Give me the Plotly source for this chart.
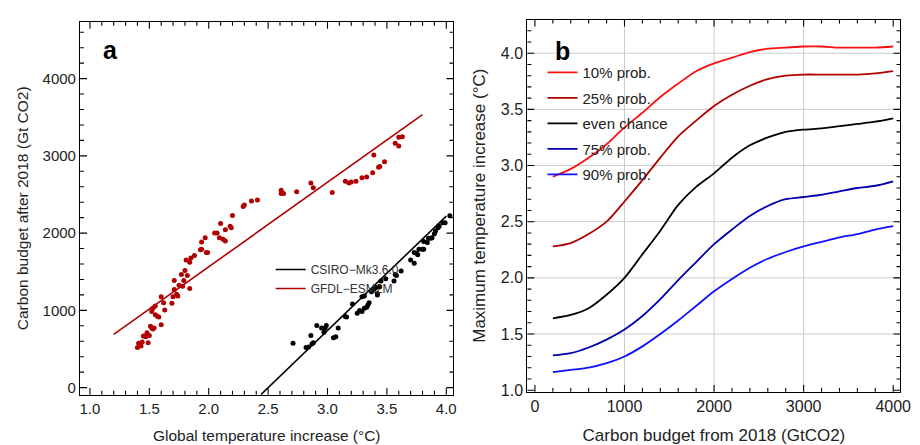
import plotly.graph_objects as go

# ---------------- Panel a data ----------------
gfdl_temp = [1.40, 1.41, 1.43, 1.44, 1.45, 1.47, 1.48, 1.49, 1.50, 1.51, 1.52, 1.53, 1.54,
             1.52, 1.53, 1.55, 1.55, 1.57, 1.58, 1.60, 1.60, 1.62, 1.63, 1.69, 1.70, 1.71,
             1.71, 1.73, 1.74, 1.75, 1.77, 1.78, 1.79, 1.80, 1.81, 1.82, 1.84, 1.84, 1.85,
             1.88, 1.93, 1.94, 1.94, 1.97, 1.98, 1.99, 2.05, 2.07, 2.09, 2.10, 2.12, 2.14,
             2.14, 2.18, 2.19, 2.20, 2.29, 2.30, 2.36, 2.41, 2.61, 2.61, 2.63, 2.74, 2.86,
             2.88, 3.04, 3.15, 3.18, 3.20, 3.24, 3.29, 3.33, 3.38, 3.39, 3.43, 3.44, 3.48,
             3.57, 3.60, 3.60, 3.63]
gfdl_budget = [518, 573, 539, 590, 667, 658, 709, 582, 675, 794, 773, 760, 773,
               985, 1028, 1057, 943, 921, 913, 815, 1176, 1100, 1006, 1091, 1176, 1270,
               1388, 1210, 1185, 1325, 1465, 1312, 1388, 1516, 1652, 1452, 1282, 1622, 1677,
               1711, 1783, 1885, 1792, 1940, 1749, 1749, 2000, 2000, 1940, 2123, 1919, 2042,
               1898, 2089, 2068, 2229, 2344, 2365, 2416, 2429, 2556, 2514, 2514, 2535, 2650,
               2586, 2526, 2671, 2650, 2662, 2671, 2717, 2726, 2781, 3010, 2853, 2862, 2925,
               3163, 3129, 3240, 3248]

csiro_temp = [2.71, 2.82, 2.84, 2.86, 2.87, 2.88, 2.91, 2.95, 2.97, 2.98, 2.99, 3.05, 3.07,
              3.09, 3.15, 3.16, 3.21, 3.25, 3.27, 3.29, 3.29, 3.31, 3.31, 3.33, 3.34, 3.35,
              3.37, 3.39, 3.41, 3.42, 3.42, 3.44, 3.45, 3.49, 3.56, 3.57, 3.58, 3.62, 3.70,
              3.73, 3.73, 3.75, 3.76, 3.77, 3.80, 3.81, 3.81, 3.84, 3.85, 3.87, 3.88, 3.90,
              3.91, 3.93, 3.94, 3.97, 3.99, 4.03]
csiro_budget = [573, 518, 527, 675, 569, 582, 803, 773, 718, 773, 803, 646, 659,
                773, 922, 913, 1083, 964, 998, 986, 1177, 1185, 1028, 1041, 1070, 1100,
                1241, 1270, 1296, 1198, 1219, 1304, 1381, 1410, 1381, 1465, 1452, 1508, 1652,
                1610, 1750, 1738, 1720, 1792, 1792, 1792, 1891, 1878, 1933, 1933, 1941, 1993,
                2026, 2069, 2089, 2133, 2133, 2226]

# fitted regression lines (end points)
gfdl_fit_temp = [1.2, 3.8]
gfdl_fit_budget = [688, 3533]
csiro_fit_temp = [2.44, 4.0]
csiro_fit_budget = [-90, 2220]

# ---------------- Panel b data ----------------
budget_b = [200, 400, 600, 800, 1000, 1200, 1400, 1600, 1800, 2000, 2200, 2400, 2600,
            2800, 3000, 3200, 3400, 3600, 3800, 4000]
p10 = [2.90, 2.97, 3.07, 3.19, 3.34, 3.47, 3.61, 3.73, 3.84, 3.91, 3.96, 4.01, 4.04,
       4.05, 4.06, 4.06, 4.05, 4.05, 4.05, 4.06]
p25 = [2.28, 2.31, 2.39, 2.50, 2.68, 2.87, 3.07, 3.26, 3.40, 3.53, 3.63, 3.71, 3.77,
       3.80, 3.81, 3.81, 3.81, 3.81, 3.82, 3.84]
p50 = [1.64, 1.67, 1.73, 1.85, 2.00, 2.21, 2.42, 2.65, 2.81, 2.93, 3.07, 3.18, 3.25,
       3.30, 3.32, 3.33, 3.35, 3.37, 3.39, 3.42]
p75 = [1.31, 1.33, 1.38, 1.45, 1.54, 1.66, 1.81, 1.98, 2.14, 2.30, 2.43, 2.55, 2.64,
       2.70, 2.72, 2.74, 2.77, 2.80, 2.82, 2.86]
p90 = [1.16, 1.18, 1.20, 1.24, 1.30, 1.39, 1.50, 1.62, 1.75, 1.88, 1.99, 2.09, 2.17,
       2.23, 2.28, 2.32, 2.36, 2.39, 2.43, 2.46]
series_b = [("10% prob.", p10, "#FF1010"), ("25% prob.", p25, "#B00000"),
            ("even chance", p50, "#000000"), ("75% prob.", p75, "#0000B0"),
            ("90% prob.", p90, "#1010FF")]

# ---------------- tick / grid values ----------------
ticks_xa = [1.0, 1.5, 2.0, 2.5, 3.0, 3.5, 4.0]
ticks_ya = [0, 1000, 2000, 3000, 4000]
ticks_xb = [0, 1000, 2000, 3000, 4000]
ticks_yb = [1.0, 1.5, 2.0, 2.5, 3.0, 3.5, 4.0]
grid_x_b = [1000, 2000, 3000]
grid_y_b = [1.5, 2.0, 2.5, 3.0, 3.5, 4.0]

FONT = "Liberation Sans, Arial, sans-serif"
RED_A = "#B00000"
W, H = 920, 445
XR_A, YR_A = [0.917, 4.06], [-93, 4735]
XR_B, YR_B = [-84, 4081], [0.985, 4.30]
DOM_XA, DOM_YA = [0.0793, 0.490], [0.1169, 0.9685]
DOM_XB, DOM_YB = [0.5714, 0.9818], [0.1236, 0.9737]
MAJOR_LEN, MINOR_LEN = 7, 4


def minors(start, stop, step, majors):
    out, k = [], 0
    while True:
        v = round(start + k * step, 6)
        if v > stop:
            break
        if all(abs(v - m) > step / 10 for m in majors):
            out.append(v)
        k += 1
    return out


fig = go.Figure()

# panel a
fig.add_trace(go.Scatter(x=gfdl_temp, y=gfdl_budget, mode="markers",
                         marker=dict(color=RED_A, size=5), showlegend=False,
                         xaxis="x", yaxis="y"))
fig.add_trace(go.Scatter(x=csiro_temp, y=csiro_budget, mode="markers",
                         marker=dict(color="black", size=5), showlegend=False,
                         xaxis="x", yaxis="y"))
fig.add_trace(go.Scatter(x=csiro_fit_temp, y=csiro_fit_budget, mode="lines",
                         line=dict(color="black", width=1.6), name="CSIRO\u2212Mk3.6.0",
                         xaxis="x", yaxis="y", legend="legend"))
fig.add_trace(go.Scatter(x=gfdl_fit_temp, y=gfdl_fit_budget, mode="lines",
                         line=dict(color=RED_A, width=1.6), name="GFDL\u2212ESM2M",
                         xaxis="x", yaxis="y", legend="legend"))

# panel b
for i, (name, vals, col) in enumerate(series_b):
    fig.add_trace(go.Scatter(x=budget_b, y=vals, mode="lines", name=name,
                             line=dict(color=col, width=1.8, shape="spline", smoothing=0.8),
                             xaxis="x2", yaxis="y2", legend="legend2",
                             legendgroup=f"g{i}"))

shapes = []

# gridlines for panel b
for gx in grid_x_b:
    shapes.append(dict(type="line", xref="x2", yref="y2 domain", x0=gx, x1=gx, y0=0, y1=1,
                       line=dict(color="#CCCCCC", width=1), layer="below"))
for gy in grid_y_b:
    shapes.append(dict(type="line", xref="x2 domain", yref="y2", x0=0, x1=1, y0=gy, y1=gy,
                       line=dict(color="#CCCCCC", width=1), layer="below"))


# inside frame ticks on all four sides, placed on the axis scales
def frame_ticks(xa, ya, xdom, ydom, xr, yr, xmaj, xmin, ymaj, ymin):
    fx = 1.0 / ((xdom[1] - xdom[0]) * W)   # domain fraction per pixel (x)
    fy = 1.0 / ((ydom[1] - ydom[0]) * H)   # domain fraction per pixel (y)
    for vals, L in ((xmaj, MAJOR_LEN), (xmin, MINOR_LEN)):
        for v in vals:
            if not (xr[0] < v < xr[1]):
                continue
            for y0, y1 in ((0, L * fy), (1 - L * fy, 1)):
                shapes.append(dict(type="line", xref=xa, yref=ya + " domain",
                                   x0=v, x1=v, y0=y0, y1=y1, layer="above",
                                   line=dict(color="black", width=1.1)))
    for vals, L in ((ymaj, MAJOR_LEN), (ymin, MINOR_LEN)):
        for v in vals:
            if not (yr[0] < v < yr[1]):
                continue
            for x0, x1 in ((0, L * fx), (1 - L * fx, 1)):
                shapes.append(dict(type="line", xref=xa + " domain", yref=ya,
                                   x0=x0, x1=x1, y0=v, y1=v, layer="above",
                                   line=dict(color="black", width=1.1)))


frame_ticks("x", "y", DOM_XA, DOM_YA, XR_A, YR_A,
            ticks_xa, minors(1.0, 4.0, 0.1, ticks_xa),
            ticks_ya, minors(0, 4600, 200, ticks_ya))
frame_ticks("x2", "y2", DOM_XB, DOM_YB, XR_B, YR_B,
            ticks_xb, minors(0, 4000, 200, ticks_xb),
            ticks_yb, minors(1.0, 4.29, 0.1, ticks_yb))


def ax(domain, rng, vals, anchor, tickfont_size, title, title_size, standoff, fmt=None):
    d = dict(domain=domain, range=rng, tickmode="array", tickvals=vals,
             anchor=anchor,
             showline=True, linecolor="black", linewidth=1.3, mirror=True,
             ticks="", showgrid=False, zeroline=False,
             tickfont=dict(family=FONT, size=tickfont_size, color="#222"),
             title=dict(text=title, standoff=standoff,
                        font=dict(family=FONT, size=title_size, color="#222")))
    if fmt:
        d["tickformat"] = fmt
    return d


fig.update_layout(
    width=W, height=H,
    margin=dict(l=0, r=0, t=0, b=0),
    paper_bgcolor="white", plot_bgcolor="white",
    font=dict(family=FONT),
    xaxis=ax(DOM_XA, XR_A, ticks_xa, "y", 15,
             "Global temperature increase (\u00b0C)", 15.5, 14, ".1f"),
    yaxis=ax(DOM_YA, YR_A, ticks_ya, "x", 15,
             "Carbon budget after 2018 (Gt CO2)", 15.5, 10),
    xaxis2=ax(DOM_XB, XR_B, ticks_xb, "y2", 16,
              "Carbon budget from 2018 (GtCO2)", 17, 14),
    yaxis2=ax(DOM_YB, YR_B, ticks_yb, "x2", 16,
              "Maximum temperature increase (\u00b0C)", 17, 10, ".1f"),
    legend=dict(x=0.289, y=0.436, xanchor="left", yanchor="top",
                bgcolor="rgba(0,0,0,0)", font=dict(family=FONT, size=12, color="#333"),
                tracegroupgap=0),
    legend2=dict(x=0.588, y=0.89, xanchor="left", yanchor="top",
                 bgcolor="rgba(0,0,0,0)", font=dict(family=FONT, size=15, color="#222"),
                 tracegroupgap=3),
    shapes=shapes,
    annotations=[
        dict(text="<b>a</b>", x=0.113, y=1 - 43 / 445, xref="paper", yref="paper",
             xanchor="center", yanchor="middle",
             showarrow=False, font=dict(family=FONT, size=25, color="black")),
        dict(text="<b>b</b>", x=0.610, y=1 - 44 / 445, xref="paper", yref="paper",
             xanchor="center", yanchor="middle",
             showarrow=False, font=dict(family=FONT, size=25, color="black")),
    ],
)

fig.write_html("out.html")
